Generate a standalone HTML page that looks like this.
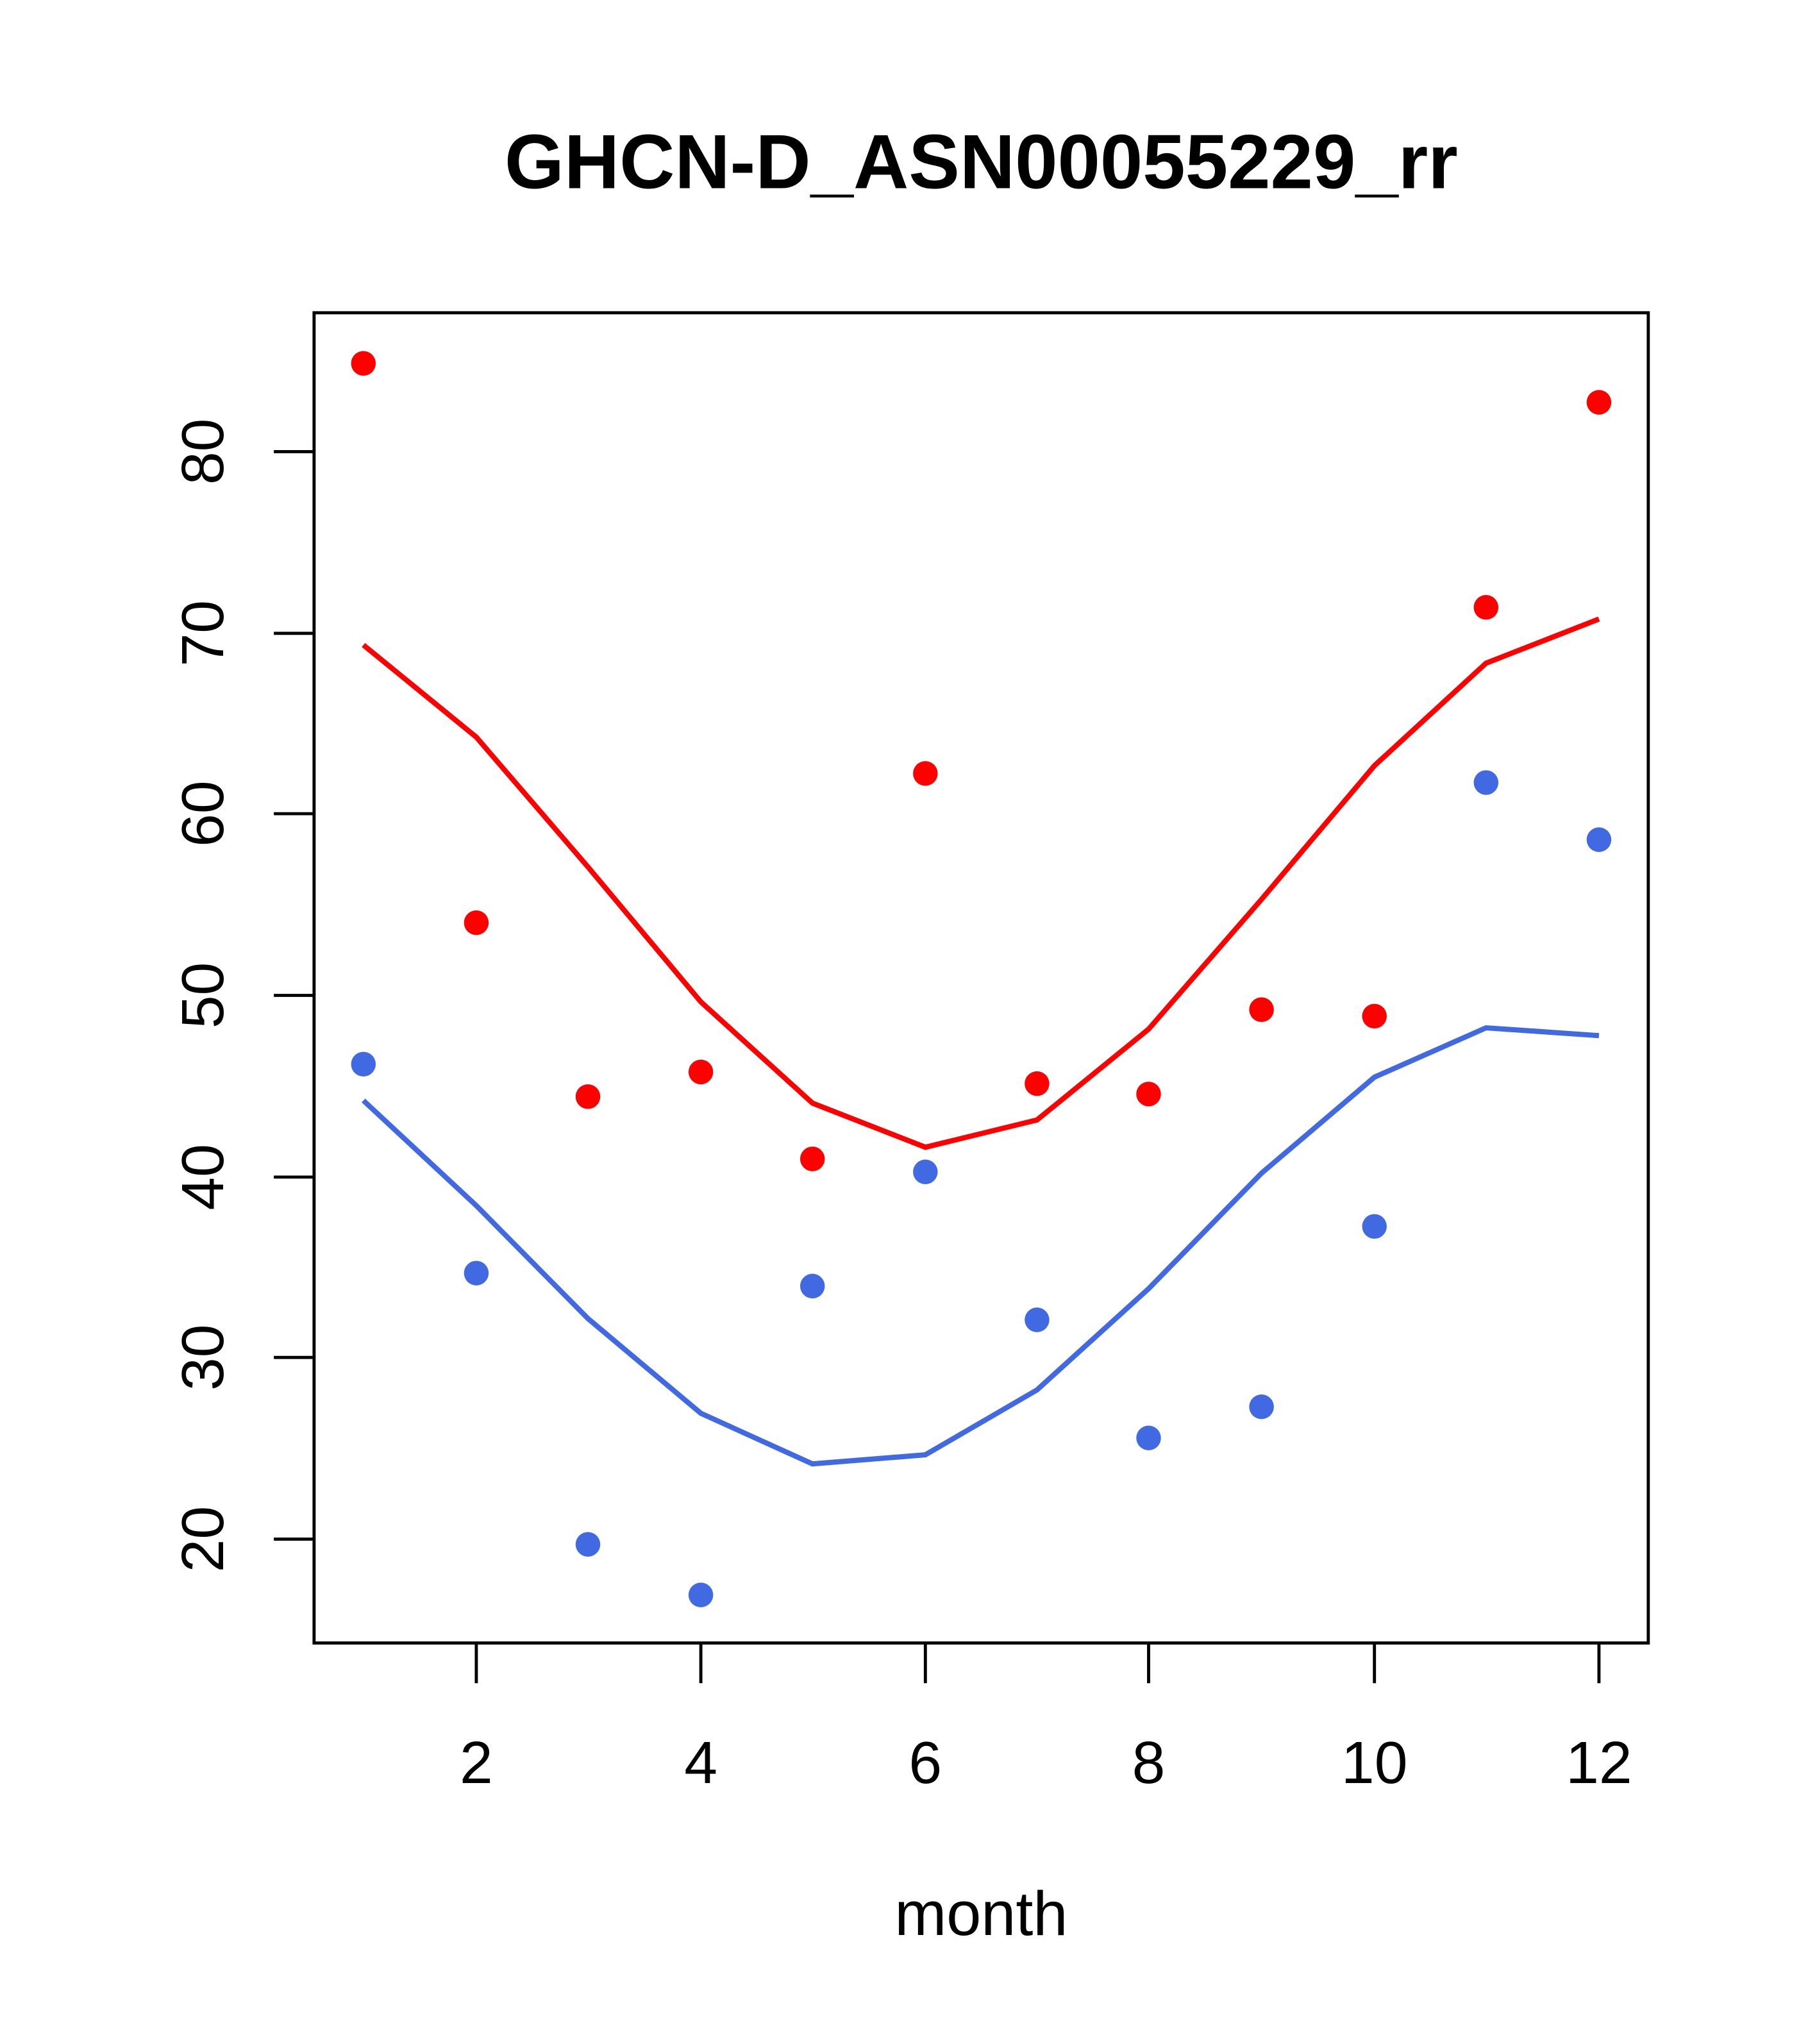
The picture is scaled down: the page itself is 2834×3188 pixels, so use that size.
<!DOCTYPE html>
<html><head><meta charset="utf-8"><style>
html,body{margin:0;padding:0;background:#fff}
svg{display:block}
text{font-family:"Liberation Sans",Arial,sans-serif;fill:#000}
</style></head><body>
<svg width="2834" height="3188" viewBox="0 0 1400 1575" preserveAspectRatio="none" xmlns="http://www.w3.org/2000/svg">
<rect x="0" y="0" width="1400" height="1575" fill="#fff"/>
<text x="756" y="145" font-size="59" font-weight="bold" text-anchor="middle">GHCN-D_ASN00055229_rr</text>
<rect x="242" y="241" width="1028" height="1025" fill="none" stroke="#000" stroke-width="2.4"/>
<g stroke="#000" stroke-width="2.4">
<line x1="367" y1="1266" x2="367" y2="1297"/><line x1="540" y1="1266" x2="540" y2="1297"/>
<line x1="713" y1="1266" x2="713" y2="1297"/><line x1="885" y1="1266" x2="885" y2="1297"/>
<line x1="1059" y1="1266" x2="1059" y2="1297"/><line x1="1232" y1="1266" x2="1232" y2="1297"/>
<line x1="242" y1="348" x2="211" y2="348"/><line x1="242" y1="488" x2="211" y2="488"/>
<line x1="242" y1="627" x2="211" y2="627"/><line x1="242" y1="767" x2="211" y2="767"/>
<line x1="242" y1="907" x2="211" y2="907"/><line x1="242" y1="1046" x2="211" y2="1046"/>
<line x1="242" y1="1186" x2="211" y2="1186"/>
</g>
<g font-size="46" text-anchor="middle">
<text x="367" y="1374">2</text><text x="540" y="1374">4</text><text x="713" y="1374">6</text>
<text x="885" y="1374">8</text><text x="1059" y="1374">10</text><text x="1232" y="1374">12</text>
<text x="756" y="1491" font-size="48">month</text>
<text transform="translate(172,348) rotate(-90)">80</text>
<text transform="translate(172,488) rotate(-90)">70</text>
<text transform="translate(172,627) rotate(-90)">60</text>
<text transform="translate(172,767) rotate(-90)">50</text>
<text transform="translate(172,907) rotate(-90)">40</text>
<text transform="translate(172,1046) rotate(-90)">30</text>
<text transform="translate(172,1186) rotate(-90)">20</text>
</g>
<polyline fill="none" stroke="#ff0000" stroke-width="4" points="280,497 367,568 453,668 540,772 626,850 713,884 799,863 885,793 972,693 1059,590 1145,511 1232,477"/>
<polyline fill="none" stroke="#4169e1" stroke-width="4" points="280,848 367,929 453,1016 540,1089 626,1128 713,1121 799,1071 885,993 972,904 1059,830 1145,792 1232,798"/>
<g fill="#ff0000">
<circle cx="280" cy="280" r="9.5"/><circle cx="367" cy="711" r="9.5"/><circle cx="453" cy="845" r="9.5"/>
<circle cx="540" cy="826" r="9.5"/><circle cx="626" cy="893" r="9.5"/><circle cx="713" cy="596" r="9.5"/>
<circle cx="799" cy="835" r="9.5"/><circle cx="885" cy="843" r="9.5"/><circle cx="972" cy="778" r="9.5"/>
<circle cx="1059" cy="783" r="9.5"/><circle cx="1145" cy="468" r="9.5"/><circle cx="1232" cy="310" r="9.5"/>
</g>
<g fill="#4169e1">
<circle cx="280" cy="820" r="9.5"/><circle cx="367" cy="981" r="9.5"/><circle cx="453" cy="1190" r="9.5"/>
<circle cx="540" cy="1229" r="9.5"/><circle cx="626" cy="991" r="9.5"/><circle cx="713" cy="903" r="9.5"/>
<circle cx="799" cy="1017" r="9.5"/><circle cx="885" cy="1108" r="9.5"/><circle cx="972" cy="1084" r="9.5"/>
<circle cx="1059" cy="945" r="9.5"/><circle cx="1145" cy="603" r="9.5"/><circle cx="1232" cy="647" r="9.5"/>
</g>
</svg>
</body></html>
